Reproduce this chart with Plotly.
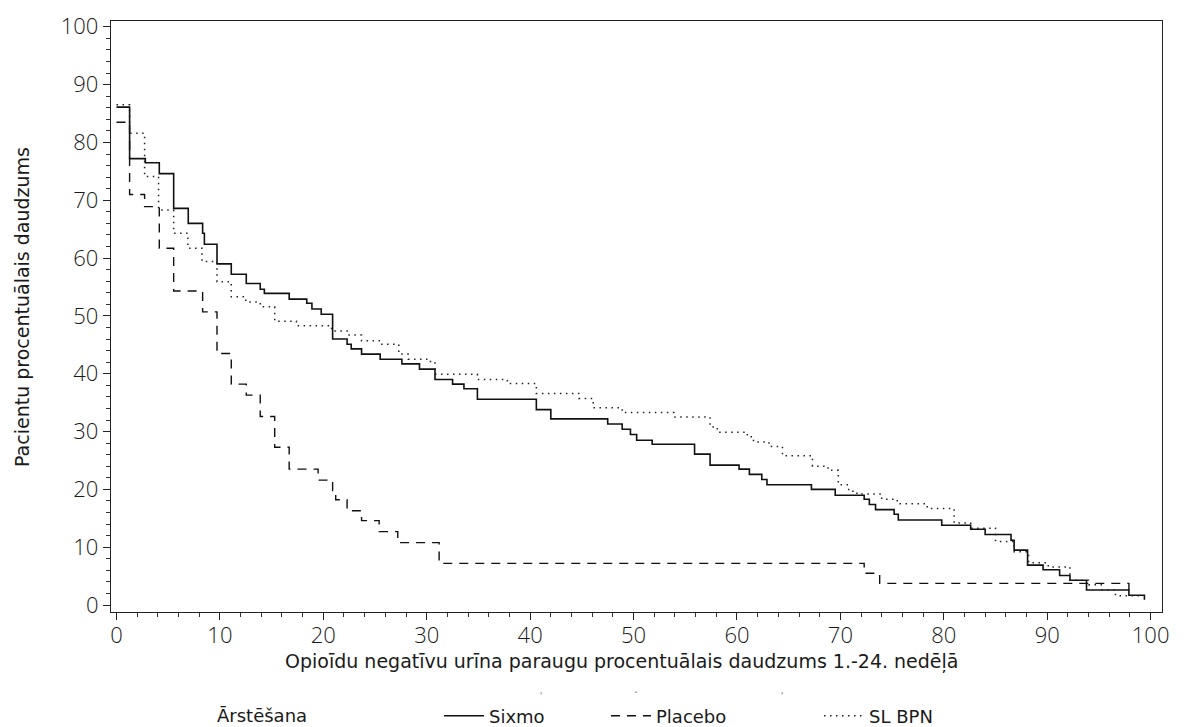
import plotly.graph_objects as go

# ---- data ----
sixmo_x = [0, 1.27, 2.79, 4.14, 5.53, 6.94, 8.33, 8.5, 9.72, 11.1, 12.55, 13.9, 14.3, 16.7, 18.4, 18.9,
           19.8, 20.9, 22.3, 22.7, 23.7, 25.5, 27.6, 29.3, 30.8, 32.5, 33.6, 34.9, 40.6, 42.0, 47.5,
           48.9, 49.7, 50.3, 51.8, 55.9, 57.4, 60.2, 61.2, 62.4, 62.9, 67.2, 69.5, 72.3, 72.8, 73.4,
           75.2, 75.6, 79.8, 82.6, 84.0, 86.5, 86.8, 88.1, 89.6, 91.2, 92.2, 93.8, 97.9, 99.4]
sixmo_y = [86.1, 77.2, 76.5, 74.6, 68.6, 66.0, 64.3, 62.4, 59.0, 57.2, 55.6, 54.6, 53.9, 52.9, 52.2, 51.2,
           50.3, 46.0, 45.1, 44.3, 43.4, 42.5, 41.7, 40.8, 39.0, 38.2, 37.4, 35.6, 33.8, 32.2, 31.3,
           30.4, 29.5, 28.5, 27.8, 26.1, 24.2, 23.5, 22.6, 21.7, 20.8, 20.0, 19.0, 18.3, 17.4, 16.5,
           15.7, 14.7, 13.8, 13.1, 12.2, 11.2, 9.5, 6.9, 6.1, 5.1, 4.3, 2.6, 1.7, 0.9]

placebo_x = [0, 1.27, 2.72, 4.14, 5.53, 8.33, 9.72, 11.1, 12.55, 13.9, 15.3, 16.7, 19.5, 20.9, 21.2,
             22.3, 23.7, 25.4, 27.2, 31.2, 72.3, 73.8, 97.9]
placebo_y = [83.5, 71.0, 68.9, 61.7, 54.3, 50.7, 43.5, 38.2, 36.3, 32.6, 27.3, 23.5, 21.6, 19.8, 18.2,
             16.3, 14.6, 12.7, 10.8, 7.2, 5.5, 3.75, 2.6]

slbpn_x = [0, 1.27, 2.72, 4.07, 5.53, 6.9, 8.27, 9.72, 11.1, 12.5, 13.9, 15.3, 17.4, 20.8, 22.3, 23.7,
           25.5, 27.3, 28.2, 30.0, 30.8, 34.9, 37.8, 40.6, 44.7, 46.1, 48.9, 53.9, 57.4, 58.1, 61.0,
           61.6, 63.1, 64.4, 67.3, 68.8, 69.8, 70.8, 71.6, 74.0, 75.5, 78.4, 81.0, 82.6, 85.0, 86.8,
           88.2, 90.1, 92.2, 94.0, 95.3, 96.6, 99.3]
slbpn_y = [86.5, 81.6, 74.1, 68.3, 64.3, 61.7, 59.4, 55.9, 53.3, 52.4, 51.6, 49.1, 48.3, 47.4, 46.7, 45.7,
           45.1, 43.4, 42.5, 42.1, 39.9, 39.0, 38.3, 36.6, 35.7, 34.1, 33.3, 32.5, 30.8, 29.9, 29.1,
           28.2, 27.4, 25.8, 24.0, 23.3, 20.8, 19.7, 19.2, 18.3, 17.5, 16.7, 14.2, 13.3, 11.0, 9.2,
           7.3, 6.6, 4.3, 3.5, 2.6, 1.6, 1.6]

x_ticks = list(range(0, 101, 10))
y_ticks = list(range(0, 101, 10))

series_names = ["Sixmo", "Placebo", "SL BPN"]
legend_title = "Ārstēšana"
x_title = "Opioīdu negatīvu urīna paraugu procentuālais daudzums 1.-24. nedēļā"
y_title = "Pacientu procentuālais daudzums"

FONT = "DejaVu Sans"
TICKFONT = "Open Sans"
INK = "#1a1a1a"
W, H = 1186, 727
ML, MR, MT, MB = 111, 24, 21, 115
PW, PH = W - ML - MR, H - MT - MB


def px_to_paper_x(px):
    return (px - ML) / PW


def px_to_paper_y(py):
    return (H - MB - py) / PH


fig = go.Figure()
fig.add_trace(go.Scatter(x=sixmo_x, y=sixmo_y, mode="lines", line_shape="hv", name=series_names[0],
                         legend="legend", line=dict(color="#111111", width=1.6)))
fig.add_trace(go.Scatter(x=placebo_x, y=placebo_y, mode="lines", line_shape="hv", name=series_names[1],
                         legend="legend2", line=dict(color="#111111", width=1.4, dash="9px,7px")))
fig.add_trace(go.Scatter(x=slbpn_x, y=slbpn_y, mode="lines", line_shape="hv", name=series_names[2],
                         legend="legend3", line=dict(color="#222222", width=1.5, dash="1.5px,4.5px")))

axis_common = dict(showline=True, linecolor="#222222", linewidth=1.3, mirror=True,
                   showgrid=False, zeroline=False, ticks="outside", ticklen=7, tickwidth=1.2,
                   tickcolor="#222222",
                   tickfont=dict(family=TICKFONT, size=22, color=INK, weight=300),
                   minor=dict(dtick=2, ticks="outside", ticklen=4, tickwidth=1, tickcolor="#333333"))

fig.update_xaxes(range=[-0.53, 101.1], tickvals=x_ticks, ticktext=[str(v) for v in x_ticks],
                 ticklabelstandoff=-4, **axis_common)
fig.update_yaxes(range=[-1.2, 101.0], tickvals=y_ticks, ticktext=[str(v) for v in y_ticks], **axis_common)

fig.add_annotation(text=x_title, xref="paper", yref="paper", x=px_to_paper_x(621), y=px_to_paper_y(661),
                   showarrow=False, xanchor="center", yanchor="middle",
                   font=dict(family=FONT, size=19, color=INK))
fig.add_annotation(text=y_title, xref="paper", yref="paper", x=px_to_paper_x(22), y=px_to_paper_y(307),
                   textangle=-90, showarrow=False, xanchor="center", yanchor="middle",
                   font=dict(family=FONT, size=19, color=INK))
fig.add_annotation(text=legend_title, xref="paper", yref="paper", x=px_to_paper_x(262), y=px_to_paper_y(715),
                   showarrow=False, xanchor="center", yanchor="middle",
                   font=dict(family=FONT, size=18, color=INK))
# tiny clipped marks visible above the legend row in the reference
for mx, mt in [(541, "'"), (636, "ˇ"), (782, "'")]:
    fig.add_annotation(text=mt, xref="paper", yref="paper", x=px_to_paper_x(mx), y=px_to_paper_y(696),
                       showarrow=False, xanchor="center", yanchor="middle",
                       font=dict(family=FONT, size=8, color="#555555"))

legend_y = 1 - 716 / H
leg_common = dict(orientation="h", yref="container", y=legend_y, xanchor="left", yanchor="middle",
                  font=dict(family=FONT, size=18, color=INK), itemwidth=40, bgcolor="rgba(0,0,0,0)")
fig.update_layout(
    width=W, height=H,
    margin=dict(l=ML, r=MR, t=MT, b=MB, autoexpand=False),
    paper_bgcolor="white", plot_bgcolor="white",
    showlegend=True,
    legend=dict(xref="container", x=(490 - 51) / W, **leg_common),
    legend2=dict(xref="container", x=(657 - 51) / W, **leg_common),
    legend3=dict(xref="container", x=(870 - 51) / W, **leg_common),
)

fig.write_html("out.html", config={"displayModeBar": False},
               post_script="document.body.style.margin='0';document.body.style.overflow='hidden';")
